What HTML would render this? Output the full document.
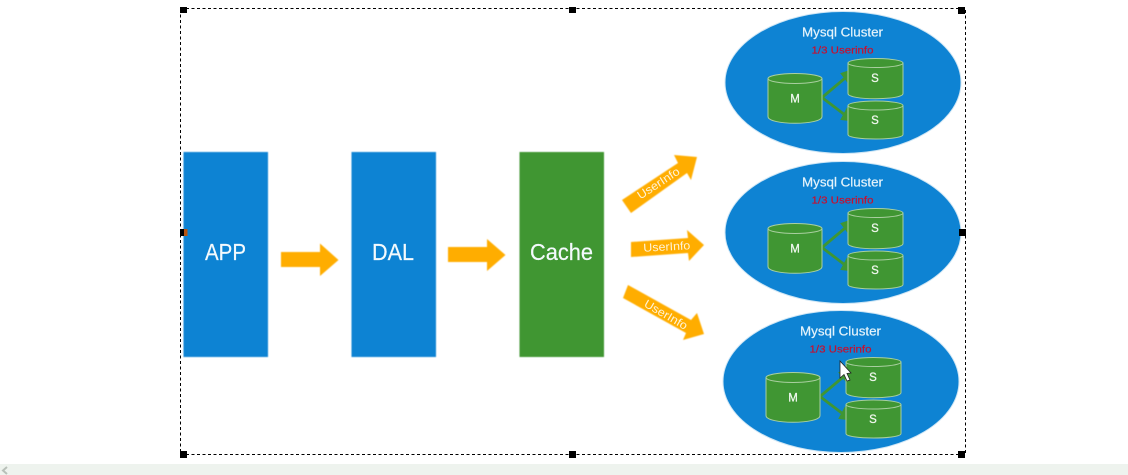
<!DOCTYPE html>
<html>
<head>
<meta charset="utf-8">
<style>
html,body{margin:0;padding:0;background:#fff;width:1128px;height:475px;overflow:hidden}
svg{display:block}
text{font-family:"Liberation Sans",sans-serif}
</style>
</head>
<body>
<svg width="1128" height="475" viewBox="0 0 1128 475" xmlns="http://www.w3.org/2000/svg">
<defs>
<filter id="b" x="-5%" y="-5%" width="110%" height="110%"><feGaussianBlur stdDeviation="0.45"/></filter>
<filter id="t" x="-5%" y="-20%" width="110%" height="140%"><feGaussianBlur stdDeviation="0.25"/></filter>
<g id="cluster">
<ellipse cx="0" cy="0" rx="118" ry="71" fill="#0e83d3" stroke="#cfe6f5" stroke-width="1"/>
<text x="-0.5" y="-46" font-size="12.5" fill="#e4f3fb" stroke="#e4f3fb" stroke-width="0.2" text-anchor="middle" textLength="81" lengthAdjust="spacingAndGlyphs" filter="url(#t)">Mysql Cluster</text>
<text x="-0.5" y="-29" font-size="10.5" fill="#c8102e" stroke="#c8102e" stroke-width="0.2" text-anchor="middle" textLength="62" lengthAdjust="spacingAndGlyphs" filter="url(#t)">1/3 Userinfo</text>
<!-- connectors -->
<path d="M-21 15 L4 -6 M-21 15 L4 34" stroke="#3f9633" stroke-width="2.8" fill="none"/>
<path d="M-2 -9 L7 -12 L5 0 Z M-2 37 L7 38 L4 26 Z" fill="#3f9633" stroke="#3f9633"/>
<!-- M -->
<path d="M-75 -4 V34 C-75 43 -21 43 -21 34 V-4" fill="#409633" stroke="#a9cfa0" stroke-width="1"/>
<ellipse cx="-48" cy="-4" rx="27" ry="5" fill="#409633" stroke="#a9cfa0" stroke-width="1"/>
<text x="-48" y="20" font-size="11.5" fill="#f2f8f0" stroke="#f2f8f0" stroke-width="0.25" text-anchor="middle">M</text>
<!-- S1 -->
<path d="M5 -20 V11 C5 18 60 18 60 11 V-20" fill="#409633" stroke="#a9cfa0" stroke-width="1"/>
<ellipse cx="32.5" cy="-19.5" rx="27.5" ry="4.5" fill="#409633" stroke="#a9cfa0" stroke-width="1"/>
<text x="32" y="-0.5" font-size="11.5" fill="#f2f8f0" stroke="#f2f8f0" stroke-width="0.25" text-anchor="middle">S</text>
<!-- S2 -->
<path d="M5 23 V52 C5 58 60 58 60 52 V23" fill="#409633" stroke="#a9cfa0" stroke-width="1"/>
<ellipse cx="32.5" cy="23" rx="27.5" ry="4.5" fill="#409633" stroke="#a9cfa0" stroke-width="1"/>
<text x="32" y="41.5" font-size="11.5" fill="#f2f8f0" stroke="#f2f8f0" stroke-width="0.25" text-anchor="middle">S</text>
</g>
</defs>

<rect x="0" y="464" width="1128" height="11" fill="#eef3ee"/>
<path d="M7 467 L3 470.5 L7 474" stroke="#b9c0b9" stroke-width="2" fill="none"/>

<!-- selection frame -->
<rect x="180.500" y="8.500" width="785" height="446" fill="none" stroke="#000" stroke-width="1" stroke-dasharray="3 2.5"/>

<!-- bars -->
<g filter="url(#b)">
<rect x="183.500" y="152" width="84.500" height="205" fill="#0e83d3"/>
<rect x="351.500" y="152" width="84.500" height="205" fill="#0e83d3"/>
<rect x="519.500" y="152" width="84.500" height="205" fill="#409633"/>
<path d="M281 252 H320 V243.500 L338.500 260 L320 276 V267 H281 Z" fill="#ffad00"/>
<path d="M448 247 H487 V239 L505.500 255 L487 271 V262 H448 Z" fill="#ffad00"/>
<path d="M622 200 L678 163 L674 155 L697 157 L691 180 L687 173 L631 213 Z" fill="#ffad00"/>
<path d="M631 242 L688 238 L687 230 L704 245 L689 261 L688 253 L631 257 Z" fill="#ffad00"/>
<path d="M628 285 L691 320 L697 313 L704 334 L683 340 L686 333 L623 298 Z" fill="#ffad00"/>
</g>
<text x="225.500" y="260" font-size="23" fill="#f4fafd" stroke="#f4fafd" stroke-width="0.2" text-anchor="middle" textLength="41" lengthAdjust="spacingAndGlyphs">APP</text>
<text x="393" y="260" font-size="23" fill="#f4fafd" stroke="#f4fafd" stroke-width="0.2" text-anchor="middle" textLength="42" lengthAdjust="spacingAndGlyphs">DAL</text>
<text x="561.500" y="260" font-size="23" fill="#f4fafd" stroke="#f4fafd" stroke-width="0.2" text-anchor="middle" textLength="63" lengthAdjust="spacingAndGlyphs">Cache</text>

<text transform="translate(660.500 186.500) rotate(-33)" font-size="11.500" fill="#fff3d6" text-anchor="middle" textLength="48" lengthAdjust="spacingAndGlyphs">UserInfo</text>
<text transform="translate(667 250.500) rotate(-3)" font-size="11.500" fill="#fff3d6" text-anchor="middle" textLength="47" lengthAdjust="spacingAndGlyphs">UserInfo</text>
<text transform="translate(664 318) rotate(30)" font-size="11.500" fill="#fff3d6" text-anchor="middle" textLength="48" lengthAdjust="spacingAndGlyphs">UserInfo</text>

<!-- clusters -->
<use href="#cluster" transform="translate(843 82.500)"/>
<use href="#cluster" transform="translate(843 232.500)"/>
<use href="#cluster" transform="translate(841 381.500)"/>

<!-- handles -->
<g fill="#000">
<rect x="180" y="7" width="7" height="6"/>
<rect x="569" y="7" width="7" height="6"/>
<rect x="958" y="7" width="7" height="7"/>
<rect x="959" y="229" width="7" height="7"/>
<rect x="180" y="451" width="7" height="7"/>
<rect x="569" y="451" width="7" height="7"/>
<rect x="958" y="451" width="7" height="7"/>
<rect x="180" y="229" width="4" height="7"/>
</g>
<rect x="184" y="229" width="3.500" height="7" fill="#b8540f"/>

<!-- cursor -->
<path d="M840 361 V378 L844 374.500 L847 381 L850 380 L847 373.500 L851 373 Z" fill="#fff" stroke="#222" stroke-width="0.8"/>
</svg>
</body>
</html>
